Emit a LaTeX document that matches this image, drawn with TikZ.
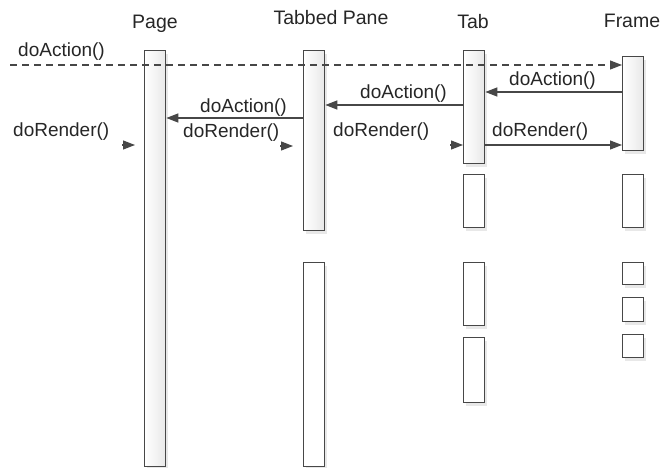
\documentclass[tikz,border=0pt]{standalone}
\usepackage{fontspec}
\setmainfont{Liberation Sans}
\usetikzlibrary{arrows.meta,shadows}
\begin{document}
\begin{tikzpicture}[x=1pt,y=-1pt,
  lifebox/.style={draw=black!72, line width=1.3pt, inner sep=0pt, anchor=north west,
    minimum width=21pt, fill=white,
    drop shadow={opacity=0.18,shadow xshift=2pt,shadow yshift=-3pt}},
  activebox/.style={lifebox, left color=white, middle color=white, right color=black!9},
  msg/.style={draw=black!72, line width=1.2pt, -{Triangle[length=12pt,width=9pt]}},
  call/.style={msg, dashed, dash pattern=on 7pt off 5pt},
  lbl/.style={font=\fontsize{19}{22}\selectfont, text=black!85, inner sep=0pt, anchor=base west},
  head/.style={font=\fontsize{19.5}{22}\selectfont, text=black!85, inner sep=0pt, anchor=base}]
\useasboundingbox (0,0) rectangle (661,468);

% headers
\node[head] (hpage) at (155,29) {Page};
\node[head] (htp) at (331,25) {Tabbed Pane};
\node[head] (htab) at (473,29) {Tab};
\node[head] (hframe) at (632,28) {Frame};

% activation boxes
\node[activebox, minimum height=416pt] (page) at (144,50) {};
\node[activebox, minimum height=180pt] (tp1) at (303,50) {};
\node[lifebox, minimum height=204pt] (tp2) at (303,262) {};
\node[activebox, minimum height=113pt] (tab1) at (463,50) {};
\node[lifebox, minimum height=53pt] (tab2) at (463,174) {};
\node[lifebox, minimum height=63pt] (tab3) at (463,262) {};
\node[lifebox, minimum height=65pt] (tab4) at (463,337) {};
\node[activebox, minimum height=94pt] (fr1) at (622,56) {};
\node[lifebox, minimum height=53pt] (fr2) at (622,174) {};
\node[lifebox, minimum height=22pt] (fr3) at (622,262) {};
\node[lifebox, minimum height=24pt] (fr4) at (622,297) {};
\node[lifebox, minimum height=23pt] (fr5) at (622,334) {};

% calls
\coordinate (start) at (10,65);
\draw[call] (start) -- (fr1.west |- start);
\node[lbl] (l0) at (18,57) {doAction()};

\coordinate (a1) at (0,92);
\draw[msg] (fr1.west |- a1) -- (tab1.east |- a1);
\node[lbl] (l1) at (509,86) {doAction()};

\coordinate (a2) at (0,105);
\draw[msg] (tab1.west |- a2) -- (tp1.east |- a2);
\node[lbl] (l2) at (360,99) {doAction()};

\coordinate (a3) at (0,118);
\draw[msg] (tp1.west |- a3) -- (page.east |- a3);
\node[lbl] (l3) at (200,113) {doAction()};

% render calls
\coordinate (r1s) at (122,145);
\coordinate (r1e) at (135,145);
\draw[msg] (r1s) -- (r1e);
\node[lbl] (l4) at (13,137) {doRender()};

\coordinate (r2s) at (280,146);
\coordinate (r2e) at (293,146);
\draw[msg] (r2s) -- (r2e);
\node[lbl] (l5) at (183,138) {doRender()};

\coordinate (r3s) at (450,145);
\draw[msg] (r3s) -- (tab1.west |- r3s);
\node[lbl] (l6) at (333,137) {doRender()};

\coordinate (r4) at (0,145);
\draw[msg] (tab1.east |- r4) -- (fr1.west |- r4);
\node[lbl] (l7) at (492,137) {doRender()};
\end{tikzpicture}
\end{document}
